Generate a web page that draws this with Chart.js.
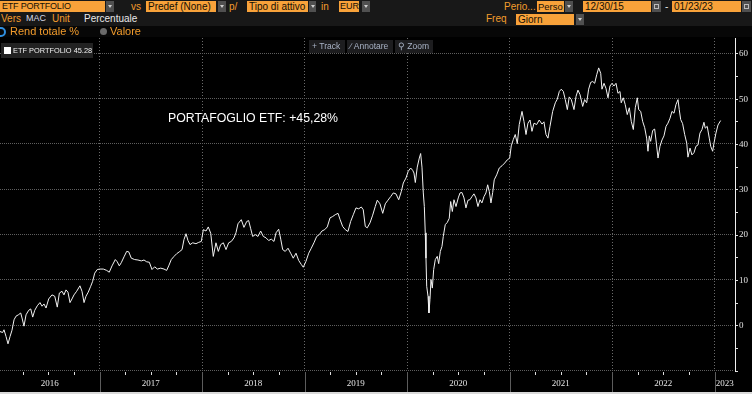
<!DOCTYPE html>
<html><head><meta charset="utf-8">
<script src="https://cdn.jsdelivr.net/npm/chart.js@4/dist/chart.umd.min.js"></script>
<style>
html,body{margin:0;padding:0;background:#000;width:752px;height:394px;overflow:hidden;font-family:"Liberation Sans",Arial,sans-serif;}
#wrap{position:relative;width:752px;height:394px;background:#000;}
canvas{position:absolute;left:0;top:0;}
.a{position:absolute;white-space:nowrap;}
.hdr{position:absolute;left:0;top:0;width:752px;height:26px;background:#181818;}
.row3{position:absolute;left:0;top:26px;width:752px;height:11px;background:#070707;}
.box{position:absolute;background:#f8a23a;color:#151005;font-size:10px;line-height:11px;height:11px;padding-left:2px;box-sizing:border-box;overflow:hidden;white-space:nowrap;}
.btn{position:absolute;background:#505050;height:11px;width:8px;}
.btn:after{content:"";position:absolute;left:2px;top:4px;border-left:2px solid transparent;border-right:2px solid transparent;border-top:3px solid #cfcfcf;}
.cal{position:absolute;background:#505050;height:11px;width:9px;}
.cal:after{content:"";position:absolute;left:2px;top:3px;width:5px;height:5px;border:1px solid #bbb;box-sizing:border-box;}
.or{color:#f39c2c;font-size:10px;line-height:11px;}
.wt{color:#e8e8e8;font-size:10px;line-height:11px;}
.tb{position:absolute;top:40px;height:13px;background:#1d1d1f;color:#a9b3c6;font-size:8.5px;line-height:13px;padding-left:3px;box-sizing:border-box;}
</style></head>
<body><div id="wrap">
<canvas id="c" width="752" height="394"></canvas>
<div class="hdr"></div>
<div class="row3"></div>
<!-- row 1 -->
<div class="box" style="left:0;top:1px;width:105px;font-size:9px;letter-spacing:-0.2px;">ETF PORTFOLIO</div><div class="btn" style="left:106px;top:1px;"></div>
<div class="a or" style="left:131px;top:1px;">vs</div>
<div class="box" style="left:146px;top:1px;width:70px;">Predef (None)</div><div class="btn" style="left:218px;top:1px;"></div>
<div class="a or" style="left:229px;top:1px;">p/</div>
<div class="box" style="left:247px;top:1px;width:61px;">Tipo di attivo</div><div class="btn" style="left:309px;top:1px;width:7px;"></div>
<div class="a or" style="left:321px;top:1px;">in</div>
<div class="box" style="left:339px;top:1px;width:20px;font-size:9px;padding-left:1px;">EUR</div><div class="btn" style="left:362px;top:1px;"></div>
<div class="a or" style="left:504px;top:1px;">Perio...</div>
<div class="box" style="left:537px;top:1px;width:27px;font-size:9.5px;padding-left:1px;">Perso</div><div class="btn" style="left:565px;top:1px;"></div>
<div class="box" style="left:583px;top:1px;width:68px;">12/30/15</div><div class="cal" style="left:652px;top:1px;"></div>
<div class="a wt" style="left:665px;top:1px;">-</div>
<div class="box" style="left:672px;top:1px;width:69px;">01/23/23</div><div class="cal" style="left:742px;top:1px;"></div>
<!-- row 2 -->
<div class="a or" style="left:1px;top:13px;">Vers</div>
<div class="a wt" style="left:26px;top:13px;color:#d6d9e6;font-size:9px;">MAC</div>
<div class="a or" style="left:52px;top:13px;">Unit</div>
<div class="a wt" style="left:84px;top:13px;">Percentuale</div>
<div class="a or" style="left:486px;top:13px;">Freq</div>
<div class="box" style="left:516px;top:14px;width:58px;">Giorn</div><div class="btn" style="left:576px;top:14px;"></div>
<!-- row 3 -->
<div class="a" style="left:-4px;top:27px;width:6px;height:6px;border:2px solid #2f8fe0;border-radius:50%;"></div>
<div class="a or" style="left:10px;top:25px;font-size:11px;line-height:13px;">Rend totale %</div>
<div class="a" style="left:100px;top:28px;width:7px;height:7px;background:#6a6a6a;border-radius:50%;"></div>
<div class="a or" style="left:110px;top:25px;font-size:11px;line-height:13px;">Valore</div>
<!-- legend & tools -->
<div class="a" style="left:1px;top:43px;width:92px;height:15px;background:#222;"></div>
<div class="a" style="left:4px;top:47px;width:7px;height:7px;background:#fff;"></div>
<div class="a" style="left:13px;top:44px;color:#f0f0f0;font-size:7.4px;line-height:13px;">ETF PORTFOLIO 45.28</div>
<div class="tb" style="left:309px;width:36px;">+&nbsp;Track</div>
<div class="tb" style="left:347px;width:46px;">&#8725;&nbsp;Annotare</div>
<div class="tb" style="left:395px;width:38px;">&#9906;&nbsp;Zoom</div>
<!-- annotation -->
<div class="a" style="left:168px;top:110px;color:#fff;font-size:12.3px;line-height:16px;">PORTAFOGLIO ETF: +45,28%</div>
<div class="a" style="left:0;top:392px;width:752px;height:2px;background:#d9d9d9;"></div>
</div>
<script>
const dates = [
2015.997,2016.029,2016.055,2016.068,2016.088,2016.107,2016.127,2016.146,2016.166,2016.185,2016.208,2016.231,2016.244,2016.263,2016.283,2016.309,2016.329,2016.348,2016.368,2016.393,2016.419,2016.439,2016.458,2016.478,2016.504,2016.536,2016.563,2016.588,2016.608,2016.634,2016.653,2016.673,2016.692,2016.712,2016.731,2016.751,2016.777,2016.809,2016.829,2016.849,2016.868,2016.890,2016.914,2016.933,2016.953,2016.978,
2017.005,2017.037,2017.070,2017.095,2017.122,2017.154,2017.173,2017.193,2017.212,2017.239,2017.265,2017.285,2017.310,2017.343,2017.375,2017.408,2017.434,2017.460,2017.486,2017.512,2017.538,2017.564,2017.597,2017.629,2017.655,2017.675,2017.700,2017.727,2017.753,2017.778,2017.805,2017.824,2017.844,2017.863,2017.883,2017.909,2017.941,2017.968,2017.993,
2018.013,2018.039,2018.061,2018.085,2018.110,2018.136,2018.159,2018.182,2018.208,2018.234,2018.260,2018.286,2018.312,2018.331,2018.351,2018.383,2018.409,2018.436,2018.455,2018.475,2018.494,2018.520,2018.546,2018.572,2018.598,2018.624,2018.650,2018.676,2018.702,2018.722,2018.748,2018.768,2018.787,2018.812,2018.839,2018.865,2018.890,2018.917,2018.943,2018.969,2018.988,
2019.014,2019.041,2019.066,2019.092,2019.119,2019.144,2019.170,2019.197,2019.222,2019.249,2019.275,2019.300,2019.327,2019.346,2019.372,2019.398,2019.424,2019.450,2019.476,2019.502,2019.529,2019.554,2019.573,2019.593,2019.612,2019.639,2019.665,2019.690,2019.710,2019.736,2019.763,2019.788,2019.814,2019.841,2019.866,2019.892,2019.919,2019.944,2019.964,2019.990,
2020.012,2020.036,2020.055,2020.068,2020.081,2020.100,2020.120,2020.133,2020.146,2020.159,2020.169,2020.178,2020.185,2020.192,2020.205,2020.214,2020.224,2020.234,2020.247,2020.260,2020.276,2020.295,2020.309,2020.325,2020.341,2020.354,2020.373,2020.393,2020.412,2020.426,2020.442,2020.458,2020.478,2020.500,2020.517,2020.536,2020.556,2020.575,2020.595,2020.614,2020.634,2020.653,2020.673,2020.692,2020.712,2020.731,2020.751,2020.770,2020.787,2020.803,2020.819,2020.836,2020.851,2020.875,2020.900,2020.927,2020.953,2020.978,
2021.002,2021.017,2021.037,2021.056,2021.076,2021.095,2021.122,2021.141,2021.161,2021.180,2021.200,2021.219,2021.239,2021.265,2021.290,2021.317,2021.336,2021.356,2021.375,2021.395,2021.421,2021.447,2021.466,2021.486,2021.505,2021.525,2021.544,2021.564,2021.583,2021.603,2021.629,2021.649,2021.668,2021.688,2021.714,2021.733,2021.753,2021.772,2021.792,2021.812,2021.831,2021.851,2021.870,2021.890,2021.902,2021.922,2021.941,2021.961,2021.980,
2022.000,2022.019,2022.039,2022.058,2022.078,2022.090,2022.110,2022.129,2022.149,2022.169,2022.188,2022.208,2022.227,2022.247,2022.260,2022.280,2022.299,2022.319,2022.338,2022.351,2022.364,2022.377,2022.397,2022.416,2022.429,2022.449,2022.468,2022.488,2022.507,2022.527,2022.546,2022.566,2022.585,2022.605,2022.624,2022.644,2022.656,2022.670,2022.689,2022.709,2022.729,2022.741,2022.761,2022.780,2022.800,2022.819,2022.839,2022.858,2022.878,2022.897,2022.910,2022.929,2022.949,2022.963,2022.982,2022.995,
2023.014,2023.034,2023.060
];
const portfolioValues = [
0,-1.3,-1.5,-0.9,-2.4,-4.0,-2.4,-1.0,1.3,2.1,2.4,2.8,1.7,-0.1,2.4,3.4,3.7,1.9,3.4,4.4,5.1,4.3,4.8,3.9,5.9,6.8,6.5,4.1,7.2,7.6,6.8,7.9,7.4,5.1,5.9,6.8,7.6,8.8,7.6,5.1,6.5,7.4,8.7,9.8,11.6,12.4,
12.5,12.5,12.2,11.8,13.2,14.6,14.1,13.2,13.9,15.2,16.4,16.3,14.9,14.6,14.5,14.3,14.5,14.1,14.0,12.4,13.0,12.5,12.7,12.5,12.2,13.2,14.6,15.3,15.9,16.3,16.8,19.0,20.3,18.8,17.9,18.3,18.1,18.4,18.6,
21.2,20.9,21.8,20.4,15.3,18.3,16.4,17.9,18.3,16.8,18.3,18.6,19.4,20.5,22.5,23.4,21.7,23.0,23.2,21.4,19.7,20.1,19.7,20.9,19.7,19.4,18.8,19.1,18.6,20.5,21.3,19.1,16.8,16.4,17.1,16.0,14.9,16.0,14.4,13.5,12.9,
14.2,16.0,17.1,18.3,19.7,20.1,20.9,21.2,21.8,23.8,24.1,24.5,24.8,23.5,21.9,21.2,20.8,23.0,24.5,26.0,25.8,26.2,25.6,21.9,21.6,22.7,24.4,26.3,27.7,26.9,24.8,26.9,27.7,28.5,29.3,29.1,27.8,29.6,31.5,32.6,
34.1,34.8,34.3,33.7,31.6,35.0,37.0,38.0,35.0,29.3,26.3,20.5,14.9,8.7,6.5,2.8,5.8,10.2,8.3,12.4,14.6,15.3,13.7,16.4,17.5,19.7,22.3,22.8,23.7,27.4,25.2,27.8,26.3,28.2,29.3,29.4,28.2,26.0,27.7,27.8,28.5,29.1,28.2,26.3,27.8,27.1,28.5,29.3,31.1,29.6,27.1,29.4,32.2,33.3,34.8,35.3,35.9,36.6,
37.0,39.7,41.1,42.2,40.2,44.4,47.3,45.1,42.2,44.7,45.4,42.9,44.7,44.4,45.4,44.5,45.0,42.2,41.4,44.0,47.3,49.2,50.0,51.7,52.2,51.7,49.9,47.7,50.5,49.9,47.7,50.6,52.0,51.0,48.4,49.9,49.2,52.2,53.7,53.9,53.5,55.4,56.9,55.7,52.2,53.5,52.4,50.3,52.9,
53.5,52.9,53.5,51.3,51.7,49.2,50.3,48.8,46.6,48.1,45.1,43.3,48.1,50.3,47.7,47.3,45.1,43.7,41.4,38.5,41.9,40.7,43.1,43.4,41.0,37.0,39.6,41.0,41.9,44.0,44.7,45.8,47.3,46.9,48.8,49.9,47.7,45.5,44.6,42.2,40.3,37.2,39.2,37.7,38.2,39.6,39.9,42.5,43.3,44.9,43.6,44.0,41.4,39.6,38.5,40.3,
42.5,44.3,45.28
];
const yTickValues = [-10,-5,0,5,10,15,20,25,30,35,40,45,50,55,60];
const yGridValues = [-10,0,10,20,30,40,50,60];
const yearBoundaries = [2017,2018,2019,2020,2021,2022,2023];
const yearLabels = ['2016','2017','2018','2019','2020','2021','2022','2023'];
const yearStarts = [2016,2017,2018,2019,2020,2021,2022,2023];
const quarterOffsets = [0.25,0.5,0.75];

const points = dates.map((d,i)=>({x:d,y:portfolioValues[i]}));

const gridPlugin = {
  id:'hgrid',
  beforeDatasetsDraw(chart){
    const {ctx, chartArea, scales} = chart;
    const y = scales.y;
    ctx.save();
    ctx.fillStyle = '#5e5e5e';
    yGridValues.forEach(v=>{
      const py = Math.round(y.getPixelForValue(v)) - 1;
      for (let px = Math.ceil(chartArea.left); px < chartArea.right - 1; px += 2) {
        ctx.fillRect(px, py, 1, 1);
      }
    });
    ctx.restore();
  }
};

const bandPlugin = {
  id:'band',
  afterDraw(chart){
    const {ctx, chartArea, scales} = chart;
    const x = scales.x;
    const top = chartArea.bottom;
    ctx.save();
    ctx.lineWidth = 1;
    ctx.strokeStyle = '#5c5c5c';
    yearBoundaries.forEach(t=>{
      const px = Math.round(x.getPixelForValue(t))+0.5;
      ctx.beginPath(); ctx.moveTo(px, top+1); ctx.lineTo(px, 392); ctx.stroke();
    });
    ctx.strokeStyle = '#dddddd';
    yearStarts.forEach(y0=>{
      quarterOffsets.forEach(q=>{
        const t = y0+q;
        if (t <= x.min || t >= x.max) return;
        const px = Math.round(x.getPixelForValue(t))+0.5;
        ctx.beginPath(); ctx.moveTo(px, top+1); ctx.lineTo(px, top+4); ctx.stroke();
      });
    });
    ctx.fillStyle = '#e4e4e4';
    ctx.font = '9px "Liberation Serif", serif';
    ctx.textAlign = 'center';
    ctx.textBaseline = 'middle';
    yearLabels.forEach((lab,i)=>{
      const a = Math.max(x.min, yearStarts[i]);
      const b = Math.min(x.max, yearStarts[i]+1);
      const px = (x.getPixelForValue(a)+x.getPixelForValue(b))/2;
      ctx.fillText(lab, px, 384);
    });
    ctx.restore();
  }
};

new Chart(document.getElementById('c'), {
  type:'line',
  data:{datasets:[{
    label:'ETF PORTFOLIO',
    data:points,
    borderColor:'#f2f2f2',
    borderWidth:1,
    pointRadius:0,
    tension:0,
    fill:false
  }]},
  options:{
    responsive:false,
    animation:false,
    devicePixelRatio:1,
    layout:{padding:{top:38,left:0,right:0,bottom:0}},
    plugins:{legend:{display:false},tooltip:{enabled:false}},
    scales:{
      x:{
        type:'linear',
        position:'bottom',
        min:2016.029,
        max:2023.2,
        afterBuildTicks(s){ s.ticks = yearBoundaries.map(v=>({value:v})); },
        afterFit(s){ s.height = 23; },
        ticks:{display:false},
        grid:{color:'#6a6a6a',lineWidth:1,drawTicks:false},
        border:{display:false,dash:[1,2]}
      },
      y:{
        type:'linear',
        position:'right',
        min:-10,
        max:63.5,
        afterBuildTicks(s){ s.ticks = yTickValues.map(v=>({value:v})); },
        afterFit(s){ s.width = 17; },
        ticks:{
          color:'#e2e2e2',
          font:{family:'"Liberation Serif", serif',size:9},
          padding:1,
          callback:(v)=> (v>=0 && v%10===0) ? String(v) : ''
        },
        grid:{
          drawOnChartArea:false,
          lineWidth:1,
          tickLength:3,
          tickColor:'#e0e0e0',
          tickWidth:1
        },
        border:{display:true,color:'#efefef',width:1}
      }
    }
  },
  plugins:[gridPlugin, bandPlugin]
});
</script>
</body></html>
